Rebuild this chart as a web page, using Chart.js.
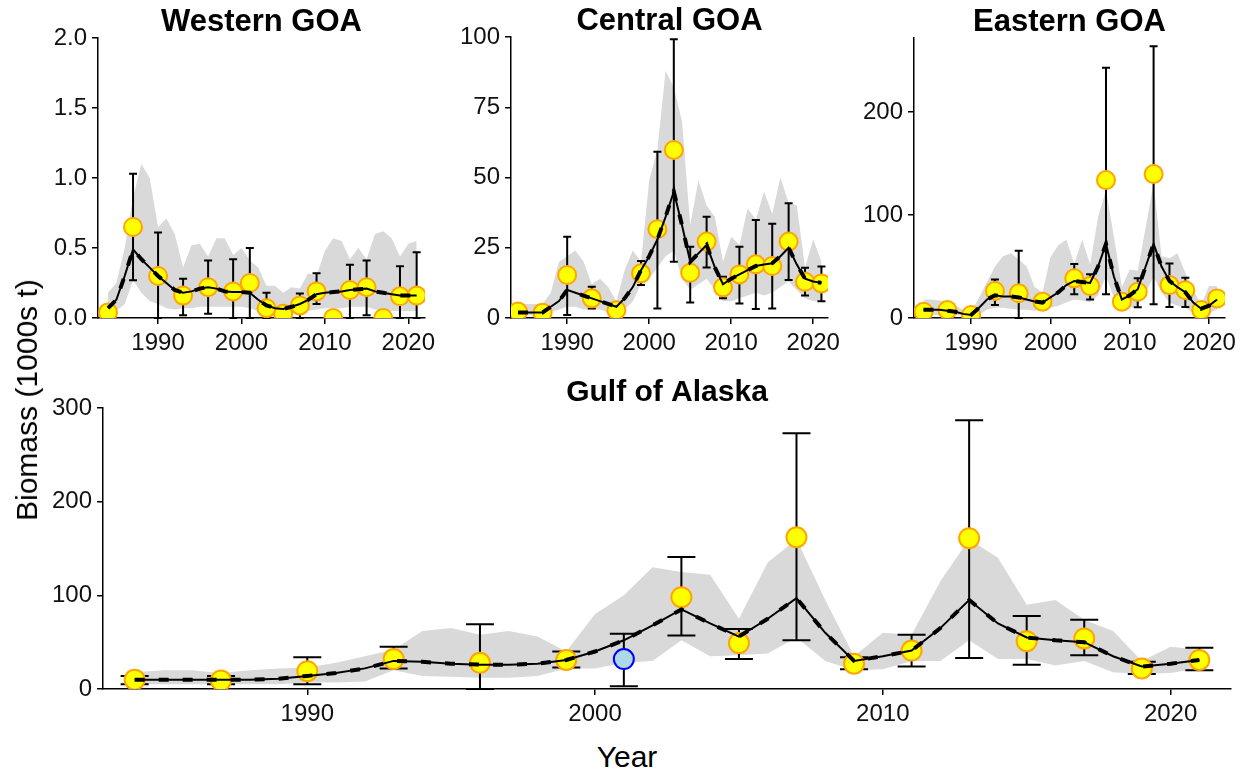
<!DOCTYPE html>
<html>
<head>
<meta charset="utf-8">
<script src="https://cdn.jsdelivr.net/npm/chart.js@4.4.1/dist/chart.umd.min.js"></script>
<style>
  body { margin: 0; background: #fff; width: 1243px; height: 772px; overflow: hidden; position: relative;
         font-family: "Liberation Sans", Arial, sans-serif; }
  .panel { position: absolute; }
  #ylab { position: absolute; left: 27px; top: 400px; transform: translate(-50%, -50%) rotate(-90deg);
          font-size: 30px; white-space: nowrap; color: #000; }
  #xlab { position: absolute; left: 627px; top: 757px; transform: translate(-50%, -50%);
          font-size: 30px; white-space: nowrap; color: #000; }
</style>
</head>
<body>
<div class="panel" id="pw" style="left:40px;top:0px;width:407px;height:368px"><canvas id="cw"></canvas></div>
<div class="panel" id="pc" style="left:453px;top:0px;width:397px;height:368px"><canvas id="cc"></canvas></div>
<div class="panel" id="pe" style="left:856px;top:0px;width:380px;height:368px"><canvas id="ce"></canvas></div>
<div class="panel" id="pg" style="left:40px;top:378px;width:1203px;height:361px"><canvas id="cg"></canvas></div>
<div id="ylab">Biomass (1000s t)</div>
<div id="xlab">Year</div>
<script>
// survey years (points with error bars)
const SURVEY_YEARS = [1984, 1987, 1990, 1993, 1996, 1999, 2001, 2003, 2005, 2007, 2009, 2011, 2013, 2015, 2017, 2019, 2021];
const EGOA_YEARS = [1984, 1987, 1990, 1993, 1996, 1999, 2003, 2005, 2007, 2009, 2011, 2013, 2015, 2017, 2019, 2021];
const GOA_YEARS = [1984, 1987, 1990, 1993, 1996, 1999, 2003, 2005, 2007, 2009, 2011, 2013, 2015, 2017, 2019, 2021];
// model years (fit line and interval)
const MODEL_YEARS = [1984, 1985, 1986, 1987, 1988, 1989, 1990, 1991, 1992, 1993,
  1994, 1995, 1996, 1997, 1998, 1999, 2000, 2001, 2002, 2003,
  2004, 2005, 2006, 2007, 2008, 2009, 2010, 2011, 2012, 2013,
  2014, 2015, 2016, 2017, 2018, 2019, 2020, 2021];
const YEAR_TICKS = [1990, 2000, 2010, 2020];

// Western GOA
const WGOA_OBS = [0.04, 0.65, 0.30, 0.16, 0.22, 0.19, 0.25, 0.07, 0.03, 0.09, 0.19, 0.0, 0.20, 0.22, 0.0, 0.155, 0.16];
const WGOA_LO = [null, 0.27, 0, 0.02, 0.03, 0, 0, 0, null, 0, 0.10, null, 0, 0.02, null, 0, 0];
const WGOA_HI = [null, 1.03, 0.61, 0.28, 0.41, 0.42, 0.50, 0.18, null, 0.175, 0.32, null, 0.38, 0.41, null, 0.37, 0.47];
const WGOA_FIT = [0.07, 0.13, 0.30, 0.49, 0.42, 0.36, 0.30, 0.25, 0.20, 0.18,
  0.19, 0.21, 0.22, 0.21, 0.19, 0.185, 0.185, 0.18, 0.13, 0.09,
  0.07, 0.065, 0.08, 0.10, 0.13, 0.17, 0.18, 0.185, 0.19, 0.20,
  0.205, 0.21, 0.19, 0.18, 0.17, 0.16, 0.16, 0.16];
const WGOA_UP = [0.18, 0.25, 0.50, 0.86, 1.10, 1.00, 0.65, 0.71, 0.60, 0.36,
  0.52, 0.53, 0.44, 0.57, 0.57, 0.45, 0.50, 0.41, 0.36, 0.23,
  0.23, 0.18, 0.22, 0.21, 0.32, 0.30, 0.48, 0.57, 0.55, 0.42,
  0.50, 0.42, 0.60, 0.62, 0.57, 0.44, 0.53, 0.55];
const WGOA_LOW = [0.02, 0.05, 0.10, 0.27, 0.18, 0.12, 0.10, 0.07, 0.06, 0.07,
  0.07, 0.08, 0.08, 0.08, 0.08, 0.08, 0.08, 0.07, 0.05, 0.03,
  0.02, 0.02, 0.03, 0.04, 0.05, 0.06, 0.07, 0.07, 0.07, 0.08,
  0.08, 0.08, 0.06, 0.05, 0.05, 0.05, 0.05, 0.05];
const WGOA_YTICKS = [0, 0.5, 1.0, 1.5, 2.0];

// Central GOA
const CGOA_OBS = [2.3, 1.9, 15.3, 7, 2.8, 15.9, 31.6, 59.8, 16.1, 27.2, 10.9, 15.5, 19.1, 18.5, 27.2, 12.9, 12.3];
const CGOA_LO = [null, null, 1.1, 3.4, null, 11.7, 3.4, 20, 5.5, 18, 7, 5.2, 3.2, 3.4, 13.5, 8, 6];
const CGOA_HI = [null, null, 28.9, 11.1, null, 20.3, 59.2, 99.2, 25.4, 36, 14.7, 25.4, 34.9, 33.5, 40.8, 17.9, 18.3];
const CGOA_FIT = [2, 2, 2, 2, 4, 6, 10, 9, 8, 7,
  6, 5, 4, 7, 11, 17, 22, 28, 36, 45,
  33, 20, 23, 26, 18, 12, 14, 15.5, 17, 18.5,
  19, 19.5, 22, 25, 19, 14, 13, 12.5];
const CGOA_UP = [5, 5, 5, 5, 9, 20, 22, 24, 20, 12,
  14, 11, 6, 17, 24, 20, 49, 60, 88, 82,
  70, 33, 49, 40, 36, 20, 29, 26, 39, 35,
  45, 37, 50, 41, 40, 18, 28, 20];
const CGOA_LOW = [1, 1, 1, 1, 2, 3, 4, 4, 3, 3,
  3, 2, 2, 3, 6, 12, 14, 18, 22, 24,
  14, 10, 12, 14, 10, 6, 6, 7, 8, 9,
  8, 9, 11, 13, 10, 7, 6, 6];
const CGOA_YTICKS = [0, 25, 50, 75, 100];

// Eastern GOA
const EGOA_OBS = [6.1, 7.8, 2.9, 26.2, 24, 15.9, 38.5, 31, 134, 15.9, 25.5, 139.8, 32, 27, 7.8, 19];
const EGOA_LO = [null, null, null, 12.6, 0, null, 23, 18, 23, null, 10.4, 13.3, 10.7, 10.7, null, null];
const EGOA_HI = [null, null, null, 37.5, 65.4, null, 52.4, 42.4, 243, null, 38.5, 264, 53, 39, null, null];
const EGOA_FIT = [8, 8, 8, 7, 6, 4, 3, 10, 18, 22,
  21, 21, 20, 18, 16, 15, 20, 25, 32, 36,
  35, 34, 50, 72, 40, 18, 22, 28, 50, 72,
  50, 36, 30, 25, 15, 9, 12, 18];
const EGOA_UP = [18, 18, 17, 15, 12, 8, 6, 20, 35, 50,
  60, 63, 57, 50, 30, 25, 59, 71, 76, 53,
  76, 52, 98, 124, 79, 30, 47, 46, 88, 131,
  60, 58, 63, 44, 27, 13, 31, 31];
const EGOA_LOW = [3, 3, 3, 3, 3, 2, 1, 3, 8, 10,
  10, 9, 8, 8, 7, 8, 10, 12, 15, 18,
  17, 15, 22, 40, 20, 8, 10, 12, 25, 40,
  25, 15, 12, 10, 5, 3, 5, 8];
const EGOA_YTICKS = [0, 100, 200];

// Gulf of Alaska (total)
const GOA_OBS = [10, 9, 19, 32, 28, 31, 98, 49, 162, 27, 41, 161, 51, 54, 22, 31];
const GOA_LO = [5, 5, 5, 22, 0, 23, 57, 32, 52, 21, 24, 33, 26, 36, 16, 20];
const GOA_HI = [14, 14, 34, 45, 69, 40, 141, 64, 273, 34, 58, 287, 78, 74, 29, 44];
const GOA_PARTIAL_YEAR = [2001];
const GOA_PARTIAL_OBS = [32];
const GOA_PARTIAL_LO = [3];
const GOA_PARTIAL_HI = [59];
const GOA_FIT = [10, 10, 10, 10, 10, 11, 14, 17, 22, 30,
  29, 27, 26, 26, 27, 31, 40, 52, 68, 85,
  70, 56, 75, 97, 60, 30, 35, 41, 65, 95,
  70, 55, 52, 50, 35, 24, 27, 31];
const GOA_UP = [18, 20, 20, 17, 20, 22, 23, 28, 35, 42,
  62, 65, 58, 62, 56, 40, 80, 100, 130, 125,
  122, 75, 135, 160, 95, 35, 60, 58, 115, 160,
  140, 90, 95, 74, 62, 30, 45, 42];
const GOA_LOW = [5, 5, 5, 5, 5, 5, 7, 7, 8, 20,
  14, 13, 12, 12, 14, 22, 22, 28, 30, 52,
  35, 36, 38, 55, 30, 20, 21, 30, 30, 52,
  32, 32, 25, 30, 18, 16, 17, 22];
const GOA_YTICKS = [0, 100, 200, 300];

Chart.defaults.font.family = "'Liberation Sans', Arial, sans-serif";
Chart.defaults.color = '#000';

const errorBars = {
  id: 'errorBars',
  beforeDatasetDraw(chart, args) {
    const ds = chart.data.datasets[args.index];
    if (!ds.errLo) return;
    const xs = chart.scales.x, ys = chart.scales.y, ctx = chart.ctx;
    ctx.save();
    ctx.strokeStyle = '#000';
    ctx.lineWidth = 2;
    ds.data.forEach((p, i) => {
      const lo = ds.errLo[i], hi = ds.errHi[i];
      if (lo == null || hi == null) return;
      const x = xs.getPixelForValue(p.x);
      const y1 = ys.getPixelForValue(lo), y2 = ys.getPixelForValue(hi);
      const c = ds.errCap;
      ctx.beginPath();
      ctx.moveTo(x, y1); ctx.lineTo(x, y2);
      ctx.moveTo(x - c, y1); ctx.lineTo(x + c, y1);
      ctx.moveTo(x - c, y2); ctx.lineTo(x + c, y2);
      ctx.stroke();
    });
    ctx.restore();
  }
};

function pts(xs, ys) {
  return xs.map((x, i) => ({ x: x, y: ys[i] }));
}

function panel(id, o) {
  const datasets = [
    { data: pts(MODEL_YEARS, o.low), borderWidth: 0, pointRadius: 0, fill: false, order: 6 },
    { data: pts(MODEL_YEARS, o.up), borderWidth: 0, pointRadius: 0, fill: '-1',
      backgroundColor: '#d9d9d9', order: 5 },
    { data: pts(o.years, o.obs), showLine: false, pointRadius: o.r, pointBorderWidth: 2,
      pointBackgroundColor: '#ffff00', pointBorderColor: '#ffa500',
      errLo: o.lo, errHi: o.hi, errCap: o.cap, order: 3 },
    { data: pts(MODEL_YEARS, o.fit), borderColor: '#000', borderWidth: 2, pointRadius: 0,
      tension: 0, fill: false, order: 2 },
    { data: pts(MODEL_YEARS, o.fit), borderColor: '#000', borderWidth: 4, borderDash: [10, 14],
      pointRadius: 0, tension: 0, fill: false, order: 1 }
  ];
  if (o.extra) datasets.push(o.extra);
  const tickFont = { size: 24 };
  return new Chart(document.getElementById(id), {
    type: 'line',
    data: { datasets: datasets },
    options: {
      responsive: true,
      maintainAspectRatio: false,
      animation: false,
      layout: { padding: { left: 0, right: o.pr, top: 0, bottom: 0 } },
      plugins: {
        legend: { display: false },
        tooltip: { enabled: false },
        title: {
          display: true, text: o.title, fullSize: false, color: '#000',
          font: { size: o.titleSize, weight: 'bold', lineHeight: 1 },
          padding: { top: o.tp, bottom: 0 }
        }
      },
      scales: {
        x: {
          type: 'linear', min: o.xmin, max: o.xmax,
          afterBuildTicks: s => { s.ticks = YEAR_TICKS.map(v => ({ value: v })); },
          afterFit: s => { s.height = 50; s.paddingLeft = 0; s.paddingRight = 0; },
          ticks: { font: tickFont, color: '#111', padding: 5, maxRotation: 0, autoSkip: false,
                   callback: v => String(v) },
          grid: { drawOnChartArea: false, tickLength: 6, color: '#000', lineWidth: 1.5 },
          border: { color: '#000', width: 1.5 }
        },
        y: {
          min: 0, max: o.ymax,
          afterBuildTicks: s => { s.ticks = o.yticks.map(v => ({ value: v })); },
          afterFit: s => { s.width = o.yw; s.paddingTop = 0; s.paddingBottom = 0; },
          ticks: { font: tickFont, color: '#111', padding: 5,
                   callback: v => o.dec ? v.toFixed(1) : String(v) },
          grid: { drawOnChartArea: false, tickLength: 6, color: '#000', lineWidth: 1.5 },
          border: { color: '#000', width: 1.5 }
        }
      }
    },
    plugins: [errorBars]
  });
}

panel('cw', { title: 'Western GOA', titleSize: 31, tp: 7, pr: 22, yw: 58,
  xmin: 1982.8, xmax: 2022, ymax: 2.0, yticks: WGOA_YTICKS, dec: true,
  years: SURVEY_YEARS, obs: WGOA_OBS, lo: WGOA_LO, hi: WGOA_HI,
  fit: WGOA_FIT, up: WGOA_UP, low: WGOA_LOW, r: 9, cap: 4 });

panel('cc', { title: 'Central GOA', titleSize: 31, tp: 6, pr: 22, yw: 58,
  xmin: 1983.15, xmax: 2021.8, ymax: 100, yticks: CGOA_YTICKS, dec: false,
  years: SURVEY_YEARS, obs: CGOA_OBS, lo: CGOA_LO, hi: CGOA_HI,
  fit: CGOA_FIT, up: CGOA_UP, low: CGOA_LOW, r: 9, cap: 4 });

panel('ce', { title: 'Eastern GOA', titleSize: 31, tp: 7, pr: 4, yw: 58,
  xmin: 1982.8, xmax: 2022, ymax: 272, yticks: EGOA_YTICKS, dec: false,
  years: EGOA_YEARS, obs: EGOA_OBS, lo: EGOA_LO, hi: EGOA_HI,
  fit: EGOA_FIT, up: EGOA_UP, low: EGOA_LOW, r: 9, cap: 4 });

panel('cg', { title: 'Gulf of Alaska', titleSize: 30, tp: 0, pr: 10, yw: 63,
  xmin: 1982.9, xmax: 2022.1, ymax: 300, yticks: GOA_YTICKS, dec: false,
  years: GOA_YEARS, obs: GOA_OBS, lo: GOA_LO, hi: GOA_HI,
  fit: GOA_FIT, up: GOA_UP, low: GOA_LOW, r: 10, cap: 14,
  extra: { data: pts(GOA_PARTIAL_YEAR, GOA_PARTIAL_OBS), showLine: false, pointRadius: 10,
    pointBorderWidth: 2, pointBackgroundColor: '#add8e6', pointBorderColor: '#0000ff',
    errLo: GOA_PARTIAL_LO, errHi: GOA_PARTIAL_HI, errCap: 14, order: 3 } });
</script>
</body>
</html>
